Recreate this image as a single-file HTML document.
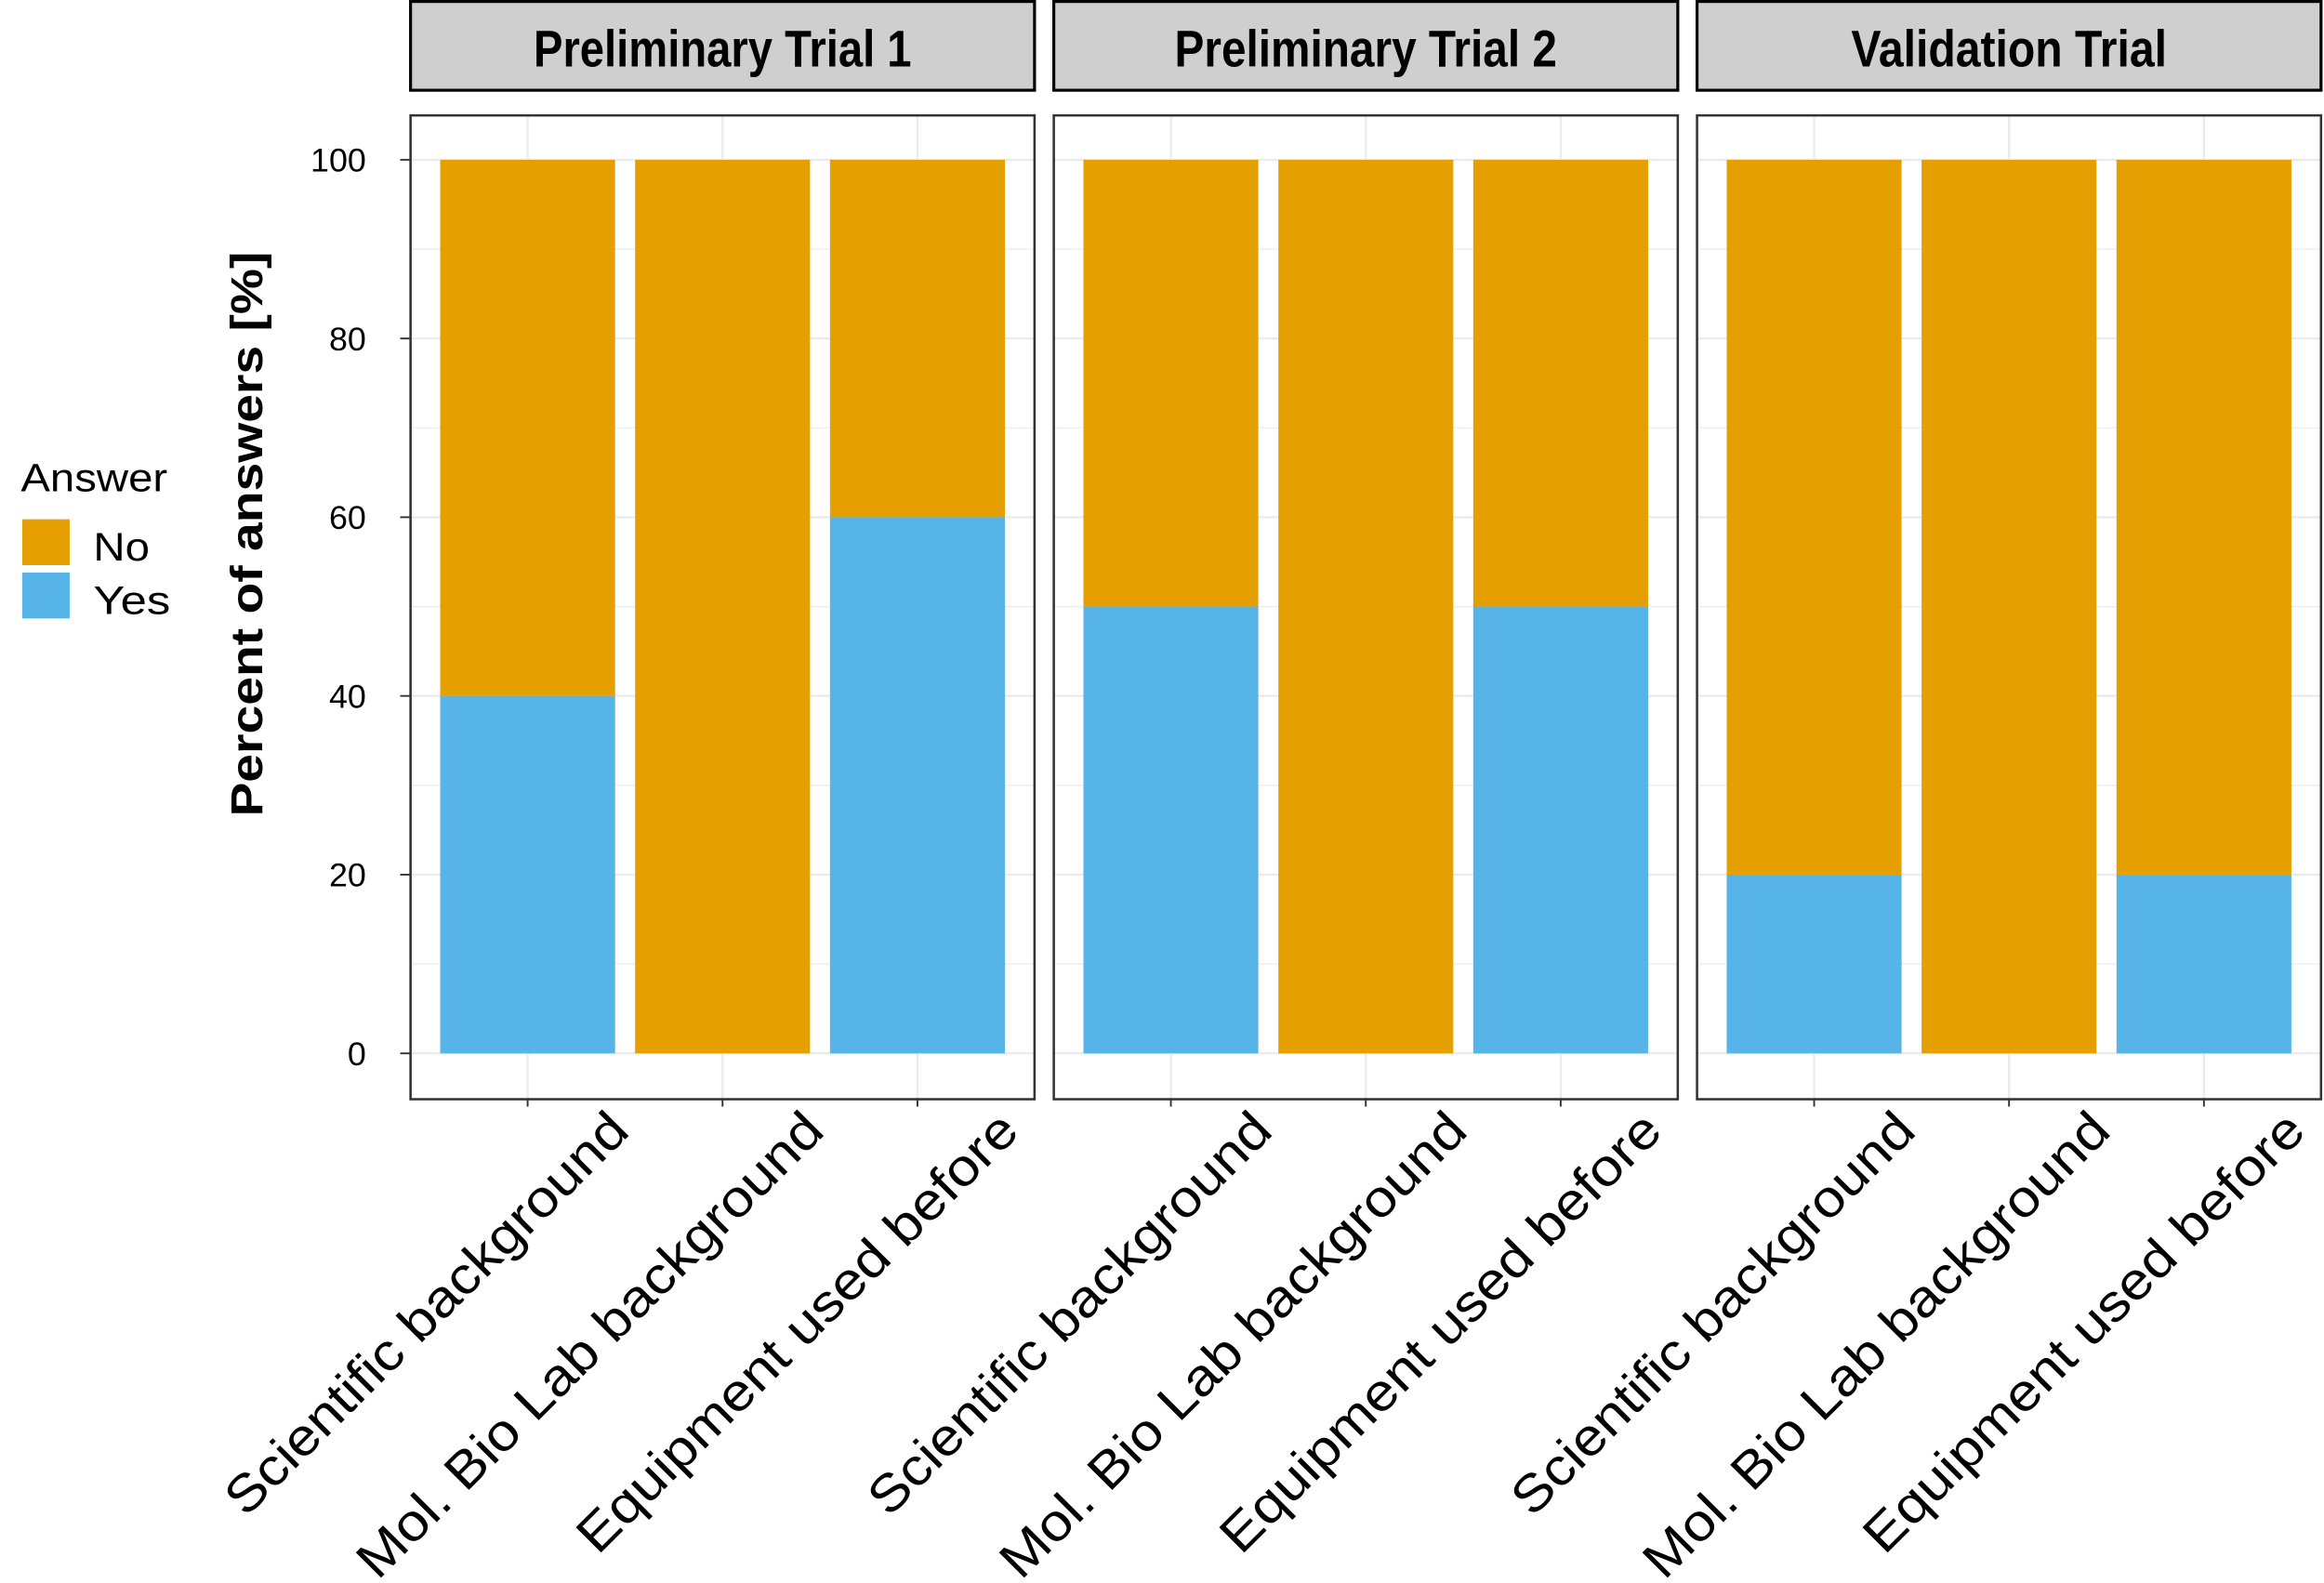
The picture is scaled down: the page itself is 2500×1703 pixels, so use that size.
<!DOCTYPE html>
<html><head><meta charset="utf-8"><style>
html,body{margin:0;padding:0;background:#fff;}
svg{display:block;font-family:"Liberation Sans",Arial,sans-serif;}
</style></head><body>
<svg id="chart" width="2500" height="1703" viewBox="0 0 1568 1070" preserveAspectRatio="none" xmlns="http://www.w3.org/2000/svg">
<g id="legend">
<text x="14" y="332" font-size="27" textLength="99" lengthAdjust="spacingAndGlyphs">Answer</text>
<rect x="15" y="351" width="32" height="31" fill="#E69F00"/>
<rect x="15" y="387" width="32" height="31" fill="#56B4E9"/>
<text x="63" y="379" font-size="27" textLength="38" lengthAdjust="spacingAndGlyphs">No</text>
<text x="63" y="415" font-size="27" textLength="52" lengthAdjust="spacingAndGlyphs">Yes</text>
</g>
<text transform="translate(177,361) rotate(-90)" text-anchor="middle" font-size="30" font-weight="bold" textLength="382" lengthAdjust="spacingAndGlyphs">Percent of answers [%]</text>
<g id="plots"></g>
</svg>
<script>
const panels = ["Preliminary Trial 1","Preliminary Trial 2","Validation Trial"];
const categories = ["Scientific background","Mol. Bio Lab background","Equipment used before"];
const yesValues = [[40,0,60],[50,0,50],[20,0,20]];
const noValues = [[60,100,40],[50,100,50],[80,100,80]];
const yTicks = [0,20,40,60,80,100];
const NS="http://www.w3.org/2000/svg";
const g=document.getElementById('plots');
const panelX=[277,711,1145], panelW=421, panelTop=78, panelBot=743;
const titleLen=[255,258,213], catLen=[368,428,404];
function y(v){return 712-(v/100)*604;}
function x(pi,ci){return panelX[pi]+20+ci*131.5+59;}
function mk(tag,attrs,parent){const e=document.createElementNS(NS,tag);for(const k in attrs)e.setAttribute(k,attrs[k]);(parent||g).appendChild(e);return e;}
panels.forEach((p,pi)=>{
  const px=panelX[pi];
  const strip=mk('rect',{x:px,y:1,width:panelW,height:60,fill:'#cfcfcf',stroke:'#000','stroke-width':2});
  
  
  const st=mk('text',{x:px+panelW/2,y:45,'text-anchor':'middle','font-size':35,'font-weight':'bold',textLength:titleLen[pi],lengthAdjust:'spacingAndGlyphs'});
  st.textContent=p;
  
  
  for(let v=10;v<=100;v+=10){
    const gl=mk('line',{x1:px,x2:px+panelW,y1:y(v),y2:y(v),stroke:'#ebebeb','stroke-width':v%20==0?1.5:0.8});
    
    
  }
  const gl0=mk('line',{x1:px,x2:px+panelW,y1:y(0),y2:y(0),stroke:'#ebebeb','stroke-width':1.5});
  
  
  categories.forEach((c,ci)=>{
    const cx=x(pi,ci);
    const vg=mk('line',{x1:cx,x2:cx,y1:panelTop,y2:panelBot,stroke:'#ebebeb','stroke-width':1.5});
    
    
  });
  categories.forEach((c,ci)=>{
    const cx=x(pi,ci), yes=yesValues[pi][ci], no=noValues[pi][ci];
    const rn=mk('rect',{x:cx-59,y:y(yes+no),width:118,height:y(yes)-y(yes+no),fill:'#E69F00'});
    
    
    const ry=mk('rect',{x:cx-59,y:y(yes),width:118,height:y(0)-y(yes),fill:'#56B4E9'});
    
    
    const tk=mk('line',{x1:cx,x2:cx,y1:panelBot,y2:panelBot+5,stroke:'#333','stroke-width':1.2});
    
    
    const lx=cx+70, ly=766;
    const lt=mk('text',{x:lx,y:ly,'text-anchor':'end','font-size':35,transform:`rotate(-45 ${lx} ${ly})`,textLength:catLen[ci],lengthAdjust:'spacingAndGlyphs'});
    lt.textContent=c;
    
    
  });
  const border=mk('rect',{x:px,y:panelTop,width:panelW,height:panelBot-panelTop,fill:'none',stroke:'#333','stroke-width':1.6});
  
  
});
yTicks.forEach(v=>{
  const t=mk('line',{x1:270,x2:277,y1:y(v),y2:y(v),stroke:'#333','stroke-width':1.2});
  
  
  const s=String(v);
  const lb=mk('text',{x:247,y:y(v)+8,'text-anchor':'end','font-size':22,textLength:s.length*12.5,lengthAdjust:'spacingAndGlyphs'});
  lb.textContent=s;
  
  
});
</script>
</body></html>
